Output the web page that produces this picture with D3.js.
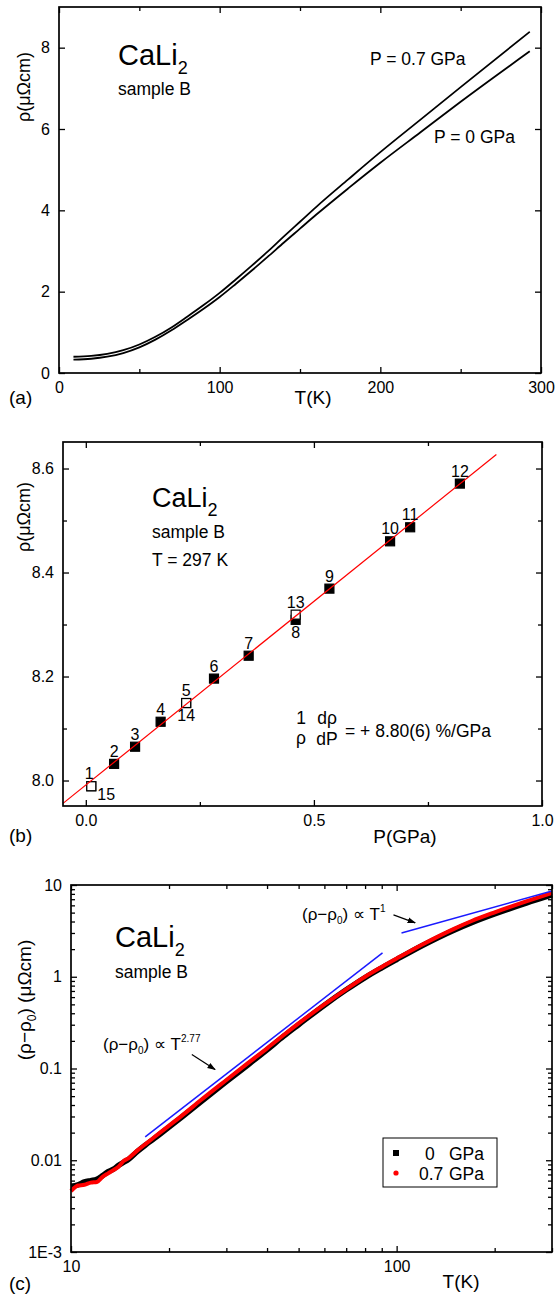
<!DOCTYPE html>
<html>
<head>
<meta charset="utf-8">
<script src="https://cdn.jsdelivr.net/npm/d3@7"></script>
<style>
  body { margin: 0; background: #fff; }
  svg { display: block; font-family: "Liberation Sans", Arial, sans-serif; }
  .tick text { font-size: 16px; fill: #000; font-family: "Liberation Sans", Arial, sans-serif; }
  .tick line { stroke: #000; stroke-width: 1.3; }
</style>
</head>
<body>
<div class="wrapper"></div>
<script>
width = 556;
height = 1294;

/* ---- data, panel (a): rho(T) ---- */
tempA    = [9, 20, 30, 40, 50, 60, 70, 80, 90, 100, 110, 120, 130, 140, 150, 160, 180, 200, 225, 250, 293];
rhoA0    = [0.33, 0.35, 0.40, 0.49, 0.63, 0.82, 1.05, 1.31, 1.58, 1.87, 2.19, 2.52, 2.86, 3.21, 3.55, 3.89, 4.54, 5.17, 5.92, 6.67, 7.91];
rhoA07   = [0.40, 0.42, 0.47, 0.56, 0.70, 0.89, 1.12, 1.39, 1.67, 1.97, 2.30, 2.64, 2.99, 3.36, 3.72, 4.08, 4.76, 5.43, 6.23, 7.03, 8.39];

/* ---- data, panel (b): rho(P) at 297 K ---- */
pointId  = [1, 2, 3, 4, 5, 6, 7, 8, 9, 10, 11, 12, 13, 14, 15];
pressure = [0.012, 0.062, 0.108, 0.164, 0.220, 0.281, 0.357, 0.460, 0.534, 0.667, 0.711, 0.820, 0.460, 0.220, 0.012];
rhoP     = [7.989, 8.032, 8.065, 8.113, 8.149, 8.196, 8.240, 8.309, 8.369, 8.460, 8.487, 8.571, 8.319, 8.149, 7.989];
fitP     = [-0.05, 0.90];
fitRho   = [7.956, 8.627];

/* ---- data, panel (c): rho - rho0 (log-log) ---- */
tempC    = [10, 10.5, 11, 11.5, 12, 12.5, 13, 13.5, 14, 14.5, 15, 16, 17, 18, 20, 22, 25, 30, 35, 40, 45, 50, 60, 70, 80, 90, 100, 120, 150, 170, 200, 250, 300];
drho0    = [0.0052, 0.0054, 0.0058, 0.0060, 0.0062, 0.0068, 0.0075, 0.0080, 0.0088, 0.0095, 0.0102, 0.0125, 0.0148, 0.0172, 0.023, 0.030, 0.043, 0.072, 0.11, 0.16, 0.225, 0.30, 0.49, 0.72, 0.98, 1.25, 1.54, 2.19, 3.22, 3.89, 4.84, 6.34, 7.79];
drho07   = [0.0046, 0.0053, 0.0054, 0.0057, 0.0058, 0.0066, 0.0072, 0.0078, 0.0085, 0.0098, 0.0105, 0.0128, 0.0152, 0.0178, 0.0238, 0.031, 0.045, 0.075, 0.115, 0.166, 0.232, 0.31, 0.50, 0.73, 1.00, 1.28, 1.58, 2.25, 3.33, 4.05, 5.04, 6.64, 8.21];
fitT277  = [16.9, 90.5];
fitV277  = [0.018, 1.82];
fitT1    = [103.5, 300];
fitV1    = [3.0, 8.6];
legendNum  = ["0", "0.7"];
legendUnit = "GPa";

svg = d3.select(".wrapper")
  .append("svg")
  .attr("width", width)
  .attr("height", height)
  .attr("viewBox", "0 0 " + width + " " + height);

svg.append("defs").append("marker")
  .attr("id", "arrow")
  .attr("viewBox", "0 0 10 10")
  .attr("refX", 9).attr("refY", 5)
  .attr("markerWidth", 7).attr("markerHeight", 7)
  .attr("orient", "auto")
  .append("path")
  .attr("d", "M0,1.5 L10,5 L0,8.5 z")
  .attr("fill", "#000");

/* helpers */
function frame(b) {
  svg.append("rect")
    .attr("x", b.l).attr("y", b.t)
    .attr("width", b.r - b.l).attr("height", b.b - b.t)
    .attr("fill", "none")
    .attr("stroke", "#000")
    .attr("stroke-width", 1.7);
}

function ticks(b, sx, sy, xMajor, xMinor, yMajor, yMinor, xFmt, yFmt) {
  var len = 6, mlen = 4;
  // bottom (labelled)
  svg.append("g").attr("transform", "translate(0," + b.b + ")")
    .call(d3.axisBottom(sx).tickValues(xMajor).tickSize(-len).tickPadding(9).tickFormat(xFmt));
  // top
  svg.append("g").attr("transform", "translate(0," + b.t + ")")
    .call(d3.axisTop(sx).tickValues(xMajor).tickSize(-len).tickFormat(""));
  // left (labelled)
  svg.append("g").attr("transform", "translate(" + b.l + ",0)")
    .call(d3.axisLeft(sy).tickValues(yMajor).tickSize(-len).tickPadding(9).tickFormat(yFmt));
  // right
  svg.append("g").attr("transform", "translate(" + b.r + ",0)")
    .call(d3.axisRight(sy).tickValues(yMajor).tickSize(-len).tickFormat(""));
  if (xMinor.length) {
    svg.append("g").attr("transform", "translate(0," + b.b + ")")
      .call(d3.axisBottom(sx).tickValues(xMinor).tickSize(-mlen).tickFormat(""));
    svg.append("g").attr("transform", "translate(0," + b.t + ")")
      .call(d3.axisTop(sx).tickValues(xMinor).tickSize(-mlen).tickFormat(""));
  }
  if (yMinor.length) {
    svg.append("g").attr("transform", "translate(" + b.l + ",0)")
      .call(d3.axisLeft(sy).tickValues(yMinor).tickSize(-mlen).tickFormat(""));
    svg.append("g").attr("transform", "translate(" + b.r + ",0)")
      .call(d3.axisRight(sy).tickValues(yMinor).tickSize(-mlen).tickFormat(""));
  }
  svg.selectAll(".domain").remove();
}

function label(x, y, txt, size, anchor) {
  return svg.append("text")
    .attr("x", x).attr("y", y)
    .attr("font-size", size)
    .attr("text-anchor", anchor || "start")
    .text(txt);
}

function cali(x, y, size) {
  var t = label(x, y, "CaLi", size);
  t.append("tspan").attr("dy", 9).attr("font-size", 18).text("2");
}

function yTitle(x, y, size) {
  return svg.append("text")
    .attr("transform", "translate(" + x + "," + y + ") rotate(-90)")
    .attr("font-size", size)
    .attr("text-anchor", "middle");
}

/* ================= panel (a) ================= */
pa = { l: 59, r: 541, t: 7, b: 373 };
xA = d3.scaleLinear().domain([0, 300]).range([pa.l, pa.r]);
yA = d3.scaleLinear().domain([0, 9]).range([pa.b, pa.t]);

ticks(pa, xA, yA, [0, 100, 200, 300], [50, 150, 250], [0, 2, 4, 6, 8], [], d3.format("d"), d3.format("d"));

lineA = d3.line().curve(d3.curveMonotoneX)
  .x(function (d) { return xA(d[0]); })
  .y(function (d) { return yA(d[1]); });

[rhoA0, rhoA07].forEach(function (s) {
  svg.append("path")
    .datum(d3.zip(tempA, s))
    .attr("d", lineA)
    .attr("fill", "none")
    .attr("stroke", "#000")
    .attr("stroke-width", 1.8);
});
frame(pa);

cali(118, 65, 29);
label(118, 95, "sample B", 17.5);
label(370, 65, "P = 0.7 GPa", 17.5);
label(434, 143, "P = 0 GPa", 17.5);
yTitle(30, 87, 18).text("ρ(μΩcm)");
label(313, 404, "T(K)", 19, "middle");
label(9, 404, "(a)", 19);

/* ================= panel (b) ================= */
pb = { l: 63, r: 542, t: 442, b: 806 };
xB = d3.scaleLinear().domain([-0.05, 1.0]).range([pb.l, pb.r]);
yB = d3.scaleLinear().domain([7.951, 8.651]).range([pb.b, pb.t]);

ticks(pb, xB, yB, [0, 0.5, 1.0], [0.25, 0.75], [8.0, 8.2, 8.4, 8.6], [8.1, 8.3, 8.5],
  d3.format(".1f"), d3.format(".1f"));

ptsB = pointId.map(function (id, i) { return { id: id, p: pressure[i], r: rhoP[i], open: id > 12 }; });
// draw filled first, open squares on top
ptsB.sort(function (a, b) { return a.open - b.open; });
svg.selectAll(".pt")
  .data(ptsB)
  .enter().append("rect")
  .classed("pt", true)
  .attr("x", function (d) { return xB(d.p) - 4.5; })
  .attr("y", function (d) { return yB(d.r) - 4.5; })
  .attr("width", 9).attr("height", 9)
  .attr("fill", function (d) { return d.open ? "#fff" : "#000"; })
  .attr("stroke", "#000")
  .attr("stroke-width", 1.2);

svg.append("path")
  .datum(d3.zip(fitP, fitRho))
  .attr("d", d3.line().x(function (d) { return xB(d[0]); }).y(function (d) { return yB(d[1]); }))
  .attr("stroke", "#ff0000")
  .attr("stroke-width", 1.2)
  .attr("fill", "none");

// point number labels: above by default
below = { 8: true, 14: true };
svg.selectAll(".ptlab")
  .data(ptsB)
  .enter().append("text")
  .classed("ptlab", true)
  .attr("font-size", 16)
  .attr("text-anchor", function (d) { return d.id === 15 ? "start" : "middle"; })
  .attr("x", function (d) {
    if (d.id === 15) return xB(d.p) + 6;
    if (d.id === 1) return xB(d.p) - 2;
    return xB(d.p);
  })
  .attr("y", function (d) {
    if (d.id === 15) return yB(d.r) + 14;
    return below[d.id] ? yB(d.r) + 18 : yB(d.r) - 7;
  })
  .text(function (d) { return d.id; });
frame(pb);

cali(152, 507, 27);
label(152, 538, "sample B", 17.5);
label(152, 566, "T = 297 K", 17.5);
label(301, 724, "1", 17.5, "middle");
label(301, 744, "ρ", 17.5, "middle");
label(327, 724, "dρ", 17.5, "middle");
label(327, 745, "dP", 17.5, "middle");
label(345, 737, "= + 8.80(6) %/GPa", 17.5);
yTitle(30, 517, 18).text("ρ(μΩcm)");
label(405, 843, "P(GPa)", 19, "middle");
label(9, 842, "(b)", 19);

/* ================= panel (c) ================= */
pc = { l: 71, r: 552, t: 885, b: 1252 };
xC = d3.scaleLog().domain([10, 300]).range([pc.l, pc.r]);
yC = d3.scaleLog().domain([0.001, 10]).range([pc.b, pc.t]);

yMinorC = [];
[0.001, 0.01, 0.1, 1].forEach(function (dec) {
  d3.range(2, 10).forEach(function (k) { yMinorC.push(dec * k); });
});
ticks(pc, xC, yC, [10, 100], [20, 30, 40, 50, 60, 70, 80, 90, 200, 300],
  [0.001, 0.01, 0.1, 1, 10], yMinorC,
  d3.format("d"),
  function (d) { return d === 0.001 ? "1E-3" : d3.format("~g")(d); });

lineC = d3.line().curve(d3.curveMonotoneX)
  .x(function (d) { return xC(d[0]); })
  .y(function (d) { return yC(d[1]); });

svg.append("path")
  .datum(d3.zip(tempC, drho0))
  .attr("d", lineC)
  .attr("fill", "none")
  .attr("stroke", "#000")
  .attr("stroke-width", 5.5)
  .attr("stroke-linejoin", "round");

svg.append("path")
  .datum(d3.zip(tempC, drho07))
  .attr("d", lineC)
  .attr("fill", "none")
  .attr("stroke", "#ff0000")
  .attr("stroke-width", 4)
  .attr("stroke-linejoin", "round");

[[fitT277, fitV277], [fitT1, fitV1]].forEach(function (f) {
  svg.append("path")
    .datum(d3.zip(f[0], f[1]))
    .attr("d", lineC)
    .attr("fill", "none")
    .attr("stroke", "#1a1aff")
    .attr("stroke-width", 1.5);
});

// annotation arrows (data coords)
arrows = [[23.5, 0.142, 27.7, 0.0975], [97.8, 4.72, 114, 3.87]];
svg.selectAll(".arrow")
  .data(arrows)
  .enter().append("line")
  .attr("x1", function (d) { return xC(d[0]); })
  .attr("y1", function (d) { return yC(d[1]); })
  .attr("x2", function (d) { return xC(d[2]); })
  .attr("y2", function (d) { return yC(d[3]); })
  .attr("stroke", "#000")
  .attr("stroke-width", 1.2)
  .attr("marker-end", "url(#arrow)");

// legend
svg.append("rect")
  .attr("x", 383).attr("y", 1138)
  .attr("width", 114).attr("height", 49)
  .attr("fill", "#fff").attr("stroke", "#000").attr("stroke-width", 1);
svg.append("rect").attr("x", 393).attr("y", 1150).attr("width", 6).attr("height", 6).attr("fill", "#000");
svg.append("circle").attr("cx", 396).attr("cy", 1173).attr("r", 2.6).attr("fill", "#ff0000");
label(425, 1160, legendNum[0], 17.5);
label(419, 1180, legendNum[1], 17.5);
label(449, 1160, legendUnit, 17.5);
label(449, 1180, legendUnit, 17.5);
frame(pc);

cali(115, 947, 29);
label(115, 978, "sample B", 17.5);

function powerLaw(x, y, ex) {
  var t = label(x, y, "(ρ−ρ", 17);
  t.append("tspan").attr("dy", 4).attr("font-size", 10).text("0");
  t.append("tspan").attr("dy", -4).text(") ∝ T");
  t.append("tspan").attr("dy", -8).attr("font-size", 10).text(ex);
}
powerLaw(103, 1050, "2.77");
powerLaw(302, 920, "1");

yc = yTitle(31, 1000, 19);
yc.append("tspan").text("(ρ−ρ");
yc.append("tspan").attr("dy", 5).attr("font-size", 12).text("0");
yc.append("tspan").attr("dy", -5).text(") (μΩcm)");
label(461, 1288, "T(K)", 19, "middle");
label(9, 1290, "(c)", 19);
</script>
</body>
</html>
